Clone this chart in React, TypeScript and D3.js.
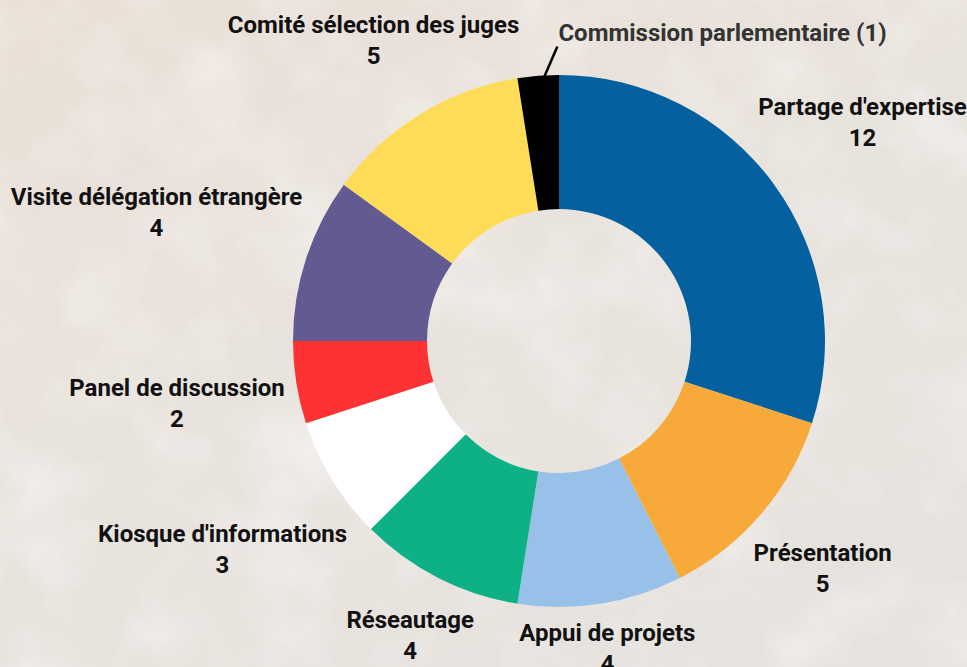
import React, { useEffect, useRef } from 'react';
import * as d3 from 'd3';

const categories = [
  'Partage d\'expertise',
  'Présentation',
  'Appui de projets',
  'Réseautage',
  'Kiosque d\'informations',
  'Panel de discussion',
  'Visite délégation étrangère',
  'Comité sélection des juges',
  'Commission parlementaire',
];
const values = [12, 5, 4, 4, 3, 2, 4, 5, 1];
const colors = ['#04609f', '#f7a93a', '#97c1e8', '#0db185', '#ffffff', '#fe3233', '#635a91', '#ffdc58', '#000000'];

const App = () => {
  const svgRef = useRef<SVGSVGElement>(null);

  useEffect(() => {
    const svg = d3.select(svgRef.current);
    const width = 967;
    const height = 667;
    const cx = 559;
    const cy = 341;
    const outer = 266;
    const inner = 132;

    svg.selectAll('*').remove();

    const defs = svg.append('defs');
    const grad = defs.append('linearGradient').attr('id', 'bg').attr('x1', 0).attr('y1', 0).attr('x2', 0.6).attr('y2', 1);
    grad.append('stop').attr('offset', 0).attr('stop-color', '#eae0d7');
    grad.append('stop').attr('offset', 0.5).attr('stop-color', '#e9e3dd');
    grad.append('stop').attr('offset', 1).attr('stop-color', '#e6e2dd');
    const filt = defs.append('filter').attr('id', 'grain').attr('x', 0).attr('y', 0).attr('width', 1).attr('height', 1);
    filt.append('feTurbulence').attr('type', 'fractalNoise').attr('baseFrequency', 0.012).attr('numOctaves', 4).attr('seed', 3);
    filt.append('feColorMatrix').attr('type', 'matrix')
      .attr('values', '0 0 0 0 1  0 0 0 0 1  0 0 0 0 1  0 0 0 -1.8 1.05');

    svg.append('rect').attr('width', width).attr('height', height).attr('fill', 'url(#bg)');
    svg.append('rect').attr('width', width).attr('height', height).attr('filter', 'url(#grain)').attr('opacity', 0.45);

    const data = categories.map((c, i) => ({ name: c, value: values[i], color: colors[i] }));
    const pie = d3.pie<any>().value(d => d.value).sort(null);
    const arcs = pie(data);
    const arc = d3.arc<any>().innerRadius(inner).outerRadius(outer);

    const g = svg.append('g').attr('transform', `translate(${cx},${cy})`);
    g.selectAll('path')
      .data(arcs)
      .join('path')
        .attr('d', arc)
        .attr('fill', d => d.data.color);

    const font = 'Roboto, "Noto Sans", sans-serif';
    const fs = 24;
    const gap = outer + 10;

    arcs.forEach((a, i) => {
      const mid = (a.startAngle + a.endAngle) / 2;
      const ux = Math.sin(mid);
      const uy = -Math.cos(mid);

      if (i === categories.length - 1) {
        // small slice: leader line + inline label
        const ang = mid + (a.endAngle - mid) * 0.3;
        const x0 = Math.sin(ang) * outer;
        const y0 = -Math.cos(ang) * outer;
        g.append('line')
          .attr('x1', x0).attr('y1', y0 + 1)
          .attr('x2', x0 + 13).attr('y2', y0 - 29)
          .attr('stroke', '#000').attr('stroke-width', 2.5);
        g.append('text')
          .attr('x', x0 + 14).attr('y', y0 - 34)
          .attr('font-family', font).attr('font-weight', 700).attr('font-size', fs)
          .attr('fill', '#333')
          .text(`${a.data.name} (${a.data.value})`);
        return;
      }

      const lab = g.append('g');
      lab.append('text')
        .attr('text-anchor', 'middle')
        .attr('font-family', font).attr('font-weight', 700).attr('font-size', fs)
        .attr('fill', '#111')
        .text(a.data.name);
      lab.append('text')
        .attr('text-anchor', 'middle').attr('y', 31)
        .attr('font-family', font).attr('font-weight', 700).attr('font-size', fs)
        .attr('fill', '#111')
        .text(a.data.value);

      const bb = (lab.node() as SVGGElement).getBBox();
      const hw = bb.width / 2;
      const hh = bb.height / 2;
      const ox = bb.x + hw;
      const oy = bb.y + hh;
      const dist = (d: number) => {
        const bx = Math.max(Math.abs(ux * d) - hw, 0);
        const by = Math.max(Math.abs(uy * d) - hh, 0);
        return Math.hypot(bx, by);
      };
      let lo = 0;
      let hi = 800;
      for (let k = 0; k < 40; k++) {
        const m = (lo + hi) / 2;
        if (dist(m) < gap) lo = m; else hi = m;
      }
      lab.attr('transform', `translate(${ux * lo - ox},${uy * lo - oy + 2})`);
    });
  }, []);

  return (
    <svg ref={svgRef} width="967" height="667" style={{ position: 'absolute', left: 0, top: 0 }}></svg>
  );
};

export default App;
